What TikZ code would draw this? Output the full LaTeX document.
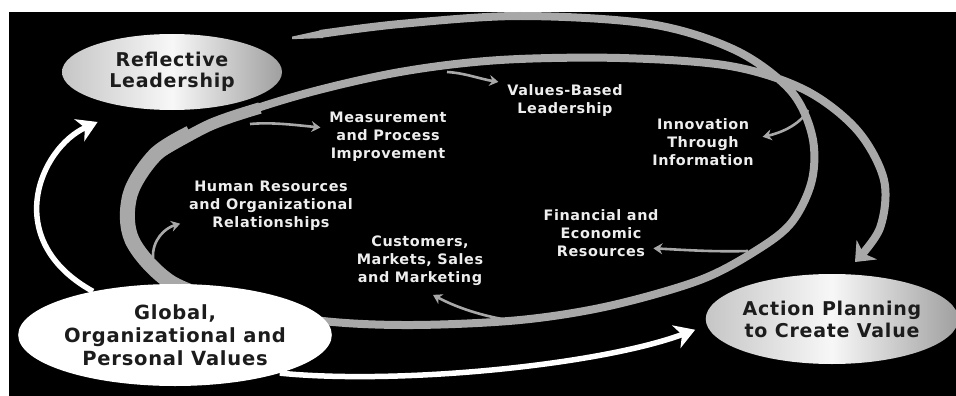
\documentclass[tikz,border=0pt]{standalone}
\usepackage{fontspec}
\setmainfont{DejaVu Sans}[LetterSpace=4.0]
\usetikzlibrary{arrows.meta,shapes.geometric}
\definecolor{band}{RGB}{168,168,168}
\definecolor{lbl}{RGB}{238,238,238}
\definecolor{dark}{RGB}{28,28,28}
\pgfdeclarelayer{back}
\pgfdeclarelayer{bg}
\pgfsetlayers{back,bg,main}
\begin{document}
\begin{tikzpicture}[x=1pt,y=-1pt,
  bigell/.style={ellipse, inner sep=0pt, text=dark, align=center,
    font=\bfseries\fontsize{19}{22}\selectfont},
  shadedell/.style={bigell, left color=gray!45!white, right color=gray!75!white, middle color=white!94!gray},
  lab/.style={text=lbl, align=center, inner sep=1pt, outer sep=8pt,
    font=\bfseries\fontsize{14.4}{18}\selectfont},
  garrow/.style={draw=band, line width=2.6pt, -{Stealth[length=9pt,width=11pt,inset=3pt]}},
  warrow/.style={draw=white, line width=5.5pt, -{Stealth[length=20pt,width=24pt,inset=6pt]}},
  bandline/.style={draw=band, line width=8pt}]
\useasboundingbox (0,0) rectangle (956,396);
\begin{pgfonlayer}{back}
  \fill[white] (0,0) rectangle (956,396);
  \fill[black] (9,12) rectangle (956,396);
\end{pgfonlayer}

% ellipses
\node[shadedell, minimum width=220pt, minimum height=76pt,
  font=\bfseries\fontsize{19}{21}\selectfont] (refl) at (172,72) {Reflective\\Leadership};
\node[shadedell, minimum width=232pt, minimum height=90pt] (act) at (832,319) {Action Planning\\to Create Value};
\node[bigell, fill=white, minimum width=300pt, minimum height=102pt,
  font=\bfseries\fontsize{19.5}{23}\selectfont] (glob) at (175,335) {Global,\\Organizational and\\Personal Values};

% labels
\node[lab] (meas) at (388,137) {Measurement\\and Process\\Improvement};
\node[lab] (vbl)  at (565,101) {Values-Based\\Leadership};
\node[lab] (inno) at (703,142) {Innovation\\Through\\Information};
\node[lab] (hr)   at (271,206) {Human Resources\\and Organizational\\Relationships};
\node[lab] (fin)  at (601,233) {Financial and\\Economic\\Resources};
\node[lab] (cust) at (420,261) {Customers,\\Markets, Sales\\and Marketing};

% points on the band
\coordinate (bmeas) at (250,124);
\coordinate (bvbl)  at (447,72);
\coordinate (binno) at (808,110);
\coordinate (bhr)   at (153,258);
\coordinate (bfin)  at (748,251);
\coordinate (bcust) at (502,319);

\begin{pgfonlayer}{bg}
  % spiral band
  \fill[band] (292,36.6) -- (323,29.8) -- (323,38.0) -- (292,39.2) -- cycle;
  \draw[bandline, -{Stealth[length=17pt,width=28pt,inset=5pt]}] plot[smooth, tension=0.55] coordinates {
    (320,34) (400,24) (520,16) (650,24) (735,50) (790,90) (812,135) (812,180)
    (792,222) (757,250) (700,280) (609,306) (520,320) (413,325) (323,321)
    (230,305) (170,282) (132,240) (130,195) (155,155) (210,125) (300,95)
    (400,72) (500,60) (620,58) (730,66) (805,90) (857,130) (884,180)
    (880,228) (855,262)};
  \draw[draw=band, line width=15pt] plot[smooth, tension=0.55] coordinates {
    (230,305) (170,282) (132,240) (130,195) (155,155) (190,133)};
  \draw[draw=band, line width=11.5pt] plot[smooth, tension=0.55] coordinates {
    (155,155) (210,125) (260,108)};
  % white arrows
  \draw[warrow] (glob.152) .. controls (0,240) and (40,148) .. ([shift={(-24pt,-16pt)}]refl.-146);
  \draw[warrow] (glob.-20) .. controls (400,385) and (600,365) .. ([xshift=-14pt]act.185);
\end{pgfonlayer}

% small connectors
\draw[garrow] (bmeas) .. controls (272,122) and (295,125) .. (meas.172);
\draw[garrow] (bvbl) .. controls (465,73) and (480,79) .. (vbl.164);
\draw[garrow] (binno) .. controls (802,122) and (785,132) .. (inno.5);
\draw[garrow] (bhr) .. controls (152,240) and (165,228) .. (hr.191);
\draw[garrow] (bfin) .. controls (715,252) and (685,250) .. ([xshift=-14pt]fin.347);
\draw[garrow] (bcust) .. controls (470,313) and (448,303) .. (cust.-69);
\end{tikzpicture}
\end{document}
